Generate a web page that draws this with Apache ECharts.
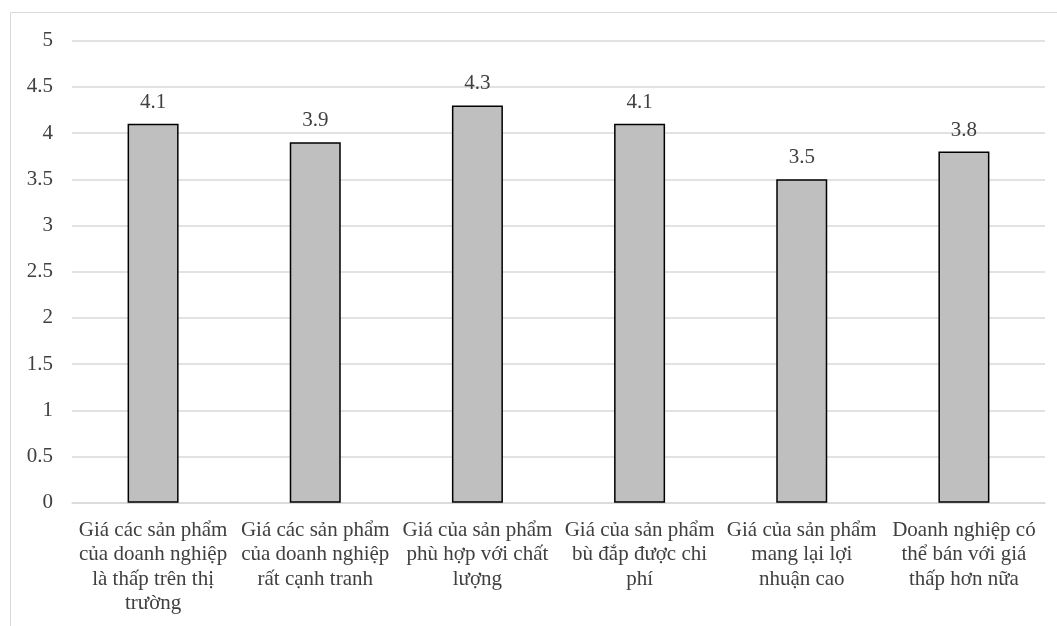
<!DOCTYPE html>
<html>
<head>
<meta charset="utf-8">
<script src="https://cdn.jsdelivr.net/npm/echarts@6/dist/echarts.min.js"></script>
<style>
  html, body { margin: 0; padding: 0; background: #ffffff; }
  #chart { width: 1057px; height: 626px; }
</style>
</head>
<body>
<div id="chart"></div>
<script>
// Categories (line breaks follow the wrapped axis labels)
const categories = [
  'Giá các sản phẩm\ncủa doanh nghiệp\nlà thấp trên thị\ntrường',
  'Giá các sản phẩm\ncủa doanh nghiệp\nrất cạnh tranh',
  'Giá của sản phẩm\nphù hợp với chất\nlượng',
  'Giá của sản phẩm\nbù đắp được chi\nphí',
  'Giá của sản phẩm\nmang lại lợi\nnhuận cao',
  'Doanh nghiệp có\nthể bán với giá\nthấp hơn nữa'
];
// Mean scores
const scores = [4.1, 3.9, 4.3, 4.1, 3.5, 3.8];
// Value axis range
const yMin = 0;
const yMax = 5;
const yStep = 0.5;

const FONT = '"Liberation Serif", "Times New Roman", serif';

const chart = echarts.init(document.getElementById('chart'), null, { renderer: 'canvas' });
chart.setOption({
  animation: false,
  backgroundColor: '#ffffff',
  graphic: [{
    type: 'rect',
    silent: true,
    z: -10,
    shape: { x: 10.5, y: 12.5, width: 1200, height: 800 },
    style: { fill: 'none', stroke: '#d9d9d9', lineWidth: 1 }
  }],
  grid: { left: 72, right: 12, top: 40.7, bottom: 123.3, containLabel: false },
  xAxis: {
    type: 'category',
    data: categories,
    axisLine: { show: true, lineStyle: { color: '#d9d9d9', width: 1.5 } },
    axisTick: { show: false },
    axisLabel: {
      interval: 0,
      margin: 15,
      color: '#404040',
      fontFamily: FONT,
      fontSize: 21,
      lineHeight: 24.6
    }
  },
  yAxis: {
    type: 'value',
    min: yMin,
    max: yMax,
    interval: yStep,
    axisLine: { show: false },
    axisTick: { show: false },
    splitLine: { lineStyle: { color: '#d9d9d9', width: 1.5 } },
    axisLabel: {
      margin: 19,
      color: '#404040',
      fontFamily: FONT,
      fontSize: 21
    }
  },
  series: [{
    type: 'bar',
    data: scores,
    barWidth: 51,
    itemStyle: { color: '#bfbfbf', borderColor: '#000000', borderWidth: 1.5 },
    label: {
      show: true,
      position: 'top',
      distance: 11,
      color: '#404040',
      fontFamily: FONT,
      fontSize: 21
    }
  }]
});
</script>
</body>
</html>
